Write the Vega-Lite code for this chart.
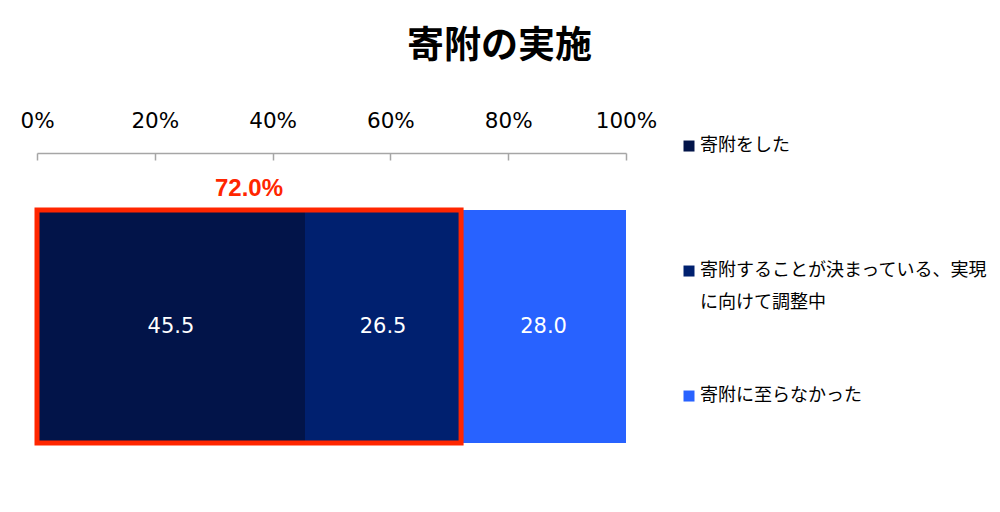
{
  "$schema": "https://vega.github.io/schema/vega-lite/v6.json",
  "width": 589,
  "height": 347,
  "autosize": {"type": "none"},
  "padding": {"left": 37, "top": 153, "right": 374, "bottom": 12},
  "background": "white",
  "title": {
    "text": "寄附の実施",
    "fontSize": 37,
    "fontWeight": "bold",
    "font": "Noto Sans CJK JP",
    "color": "#000000",
    "anchor": "middle",
    "dx": 168,
    "offset": 44
  },
  "config": {
    "view": {"stroke": null},
    "font": "DejaVu Sans, Noto Sans CJK JP",
    "style": {"guide-label": {"lineHeight": 32}}
  },
  "layer": [
    {
      "data": {
        "values": [
          {"row": "寄附の実施", "category": "寄附をした", "order": 1, "value": 45.5},
          {"row": "寄附の実施", "category": "寄附することが決まっている、実現に向けて調整中", "order": 2, "value": 26.5},
          {"row": "寄附の実施", "category": "寄附に至らなかった", "order": 3, "value": 28.0}
        ]
      },
      "layer": [
        {
          "mark": {"type": "bar"},
          "encoding": {
            "x": {
              "field": "value",
              "type": "quantitative",
              "stack": "zero",
              "scale": {"domain": [0, 100], "nice": false},
              "axis": {
                "orient": "top",
                "values": [0, 20, 40, 60, 80, 100],
                "labelExpr": "datum.value + '%'",
                "labelFlush": false,
                "grid": false,
                "title": null,
                "domainColor": "#a6a6a6",
                "domainWidth": 1.5,
                "tickColor": "#a6a6a6",
                "tickWidth": 1.5,
                "tickSize": -7,
                "labelPadding": 28,
                "labelFontSize": 21.5,
                "labelColor": "#000000",
                "labelFont": "DejaVu Sans"
              }
            },
            "y": {
              "field": "row",
              "type": "nominal",
              "axis": null,
              "scale": {"paddingInner": 0, "paddingOuter": 0.245}
            },
            "order": {"field": "order", "type": "quantitative"},
            "color": {
              "field": "category",
              "type": "nominal",
              "sort": ["寄附をした", "寄附することが決まっている、実現に向けて調整中", "寄附に至らなかった"],
              "scale": {
                "domain": ["寄附をした", "寄附することが決まっている、実現に向けて調整中", "寄附に至らなかった"],
                "range": ["#021449", "#00206f", "#2862ff"]
              },
              "legend": {
                "orient": "none",
                "legendX": 643,
                "legendY": -25,
                "title": null,
                "symbolType": "M-1,0.64H1V2.64H-1Z",
                "symbolSize": 121,
                "symbolStrokeWidth": 0,
                "labelFontSize": 18,
                "labelFont": "Noto Sans CJK JP",
                "labelColor": "#000000",
                "labelLimit": 400,
                "labelBaseline": "top",
                "labelOffset": 2,
                "rowPadding": 66,
                "labelExpr": "datum.label == '寄附することが決まっている、実現に向けて調整中' ? ['寄附することが決まっている、実現', 'に向けて調整中'] : [datum.label, '　']"
              }
            }
          }
        },
        {
          "mark": {"type": "text", "color": "white", "fontSize": 21, "font": "DejaVu Sans"},
          "encoding": {
            "x": {"field": "value", "type": "quantitative", "stack": "zero", "bandPosition": 0.5},
            "y": {"field": "row", "type": "nominal"},
            "order": {"field": "order", "type": "quantitative"},
            "text": {"field": "value", "type": "quantitative", "format": ".1f"}
          }
        }
      ]
    },
    {
      "data": {"values": [{"row": "寄附の実施", "share": 72.0, "label": "72.0%"}]},
      "layer": [
        {
          "mark": {"type": "bar", "fill": null, "fillOpacity": 0, "stroke": "#ff2600", "strokeWidth": 5},
          "encoding": {
            "x": {"field": "share", "type": "quantitative"},
            "y": {"field": "row", "type": "nominal"}
          }
        },
        {
          "mark": {"type": "text", "color": "#ff2600", "fontSize": 24, "fontWeight": "bold", "font": "Liberation Sans", "dy": -138},
          "encoding": {
            "x": {"field": "share", "type": "quantitative", "stack": "zero", "bandPosition": 0.5},
            "y": {"field": "row", "type": "nominal"},
            "text": {"field": "label", "type": "nominal"}
          }
        }
      ]
    }
  ]
}
